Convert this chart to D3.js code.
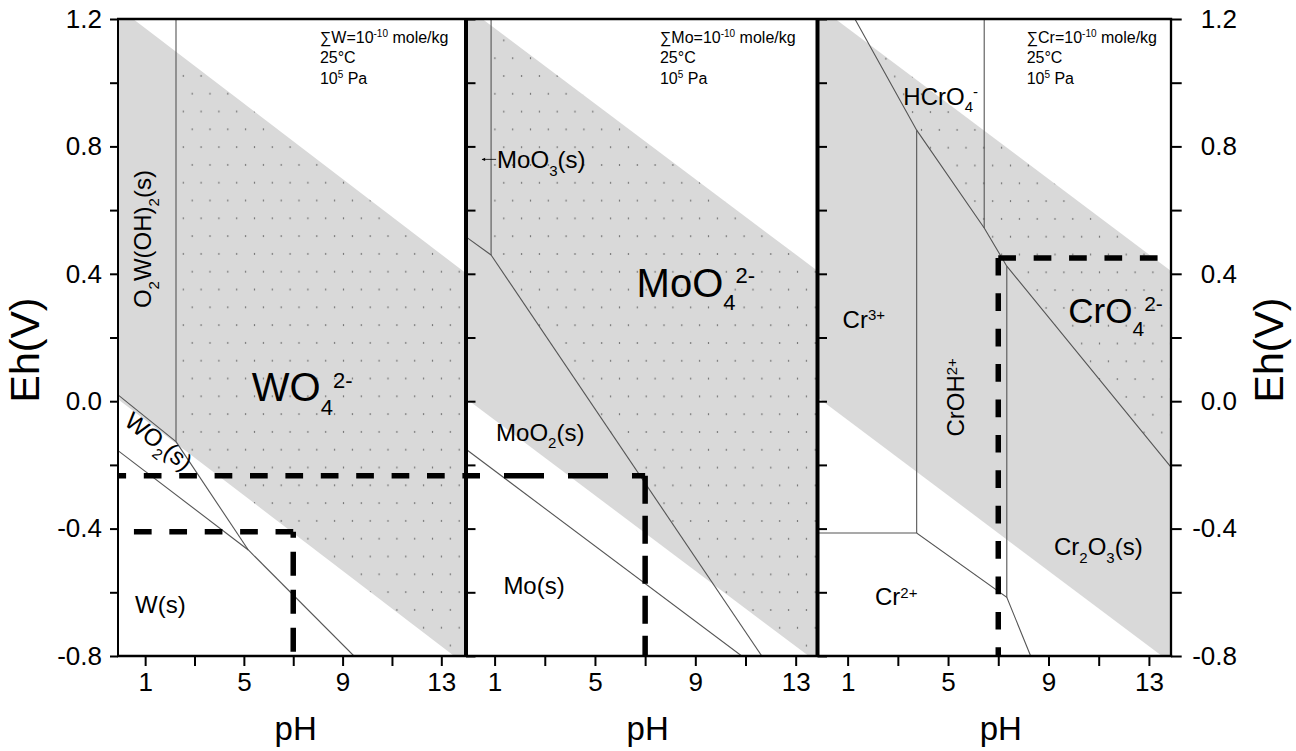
<!DOCTYPE html>
<html>
<head>
<meta charset="utf-8">
<script src="https://cdn.jsdelivr.net/npm/d3@7"></script>
<style>
  html, body { margin: 0; padding: 0; background: #fff; }
  svg { display: block; font-family: "Liberation Sans", Arial, sans-serif; }
</style>
</head>
<body>
<svg id="chart" width="1296" height="751"></svg>
<script>
// ---------- axis values ----------
const ehDomain = [-0.8, 1.2];
const ehTicks = [-0.8, -0.6, -0.4, -0.2, 0, 0.2, 0.4, 0.6, 0.8, 1.0, 1.2];
const ehLabels = [-0.8, -0.4, 0, 0.4, 0.8, 1.2];
const phTicks = [1, 3, 5, 7, 9, 11, 13];
const phLabels = [1, 5, 9, 13];

// ---------- water stability limits (pH, Eh) ----------
const waterUpper = [[-0.5, 1.26], [14.5, 0.372]];
const waterLower = [[-0.5, 0.03], [14.5, -0.858]];

// ---------- tungsten ----------
const wDomain = [-0.1, 14.0];
const wLines = [
  [[2.25, 1.2], [2.25, -0.127]],
  [[-0.1, 0.02], [2.25, -0.127]],
  [[2.25, -0.127], [5.18, -0.467]],
  [[-0.1, -0.155], [5.18, -0.467]],
  [[5.18, -0.467], [9.46, -0.8]]
];
const wAqueous = [[2.25, 1.3], [14.2, 1.3], [14.2, -0.9], [9.46, -0.8], [5.18, -0.467], [2.25, -0.127]];
const wGuides = [
  [[-0.1, -0.234], [14.0, -0.234]],
  [[7, -0.41], [-0.1, -0.41]],
  [[7, -0.41], [7, -0.8]]
];
const wLabels = [
  { text: "O_{2}W(OH)_{2}(s)", ph: 1.24, eh: 0.509, kind: "phase", orient: "up" },
  { text: "WO_{4}^{2-}", ph: 5.32, eh: 0.0, kind: "ion" },
  { text: "WO_{2}(s)", ph: 0.10, eh: -0.072, kind: "phase", orient: "slope" },
  { text: "W(s)", ph: 0.59, eh: -0.665, kind: "phase" }
];
const wNote = { lines: ["∑W=10^{-10} mole/kg", "25°C", "10^{5} Pa"], ph: 8.08, eh: 1.125 };

// ---------- molybdenum ----------
const moDomain = [-0.14, 13.87];
const moLines = [
  [[0.86, 1.2], [0.86, 0.459]],
  [[-0.14, 0.516], [0.86, 0.459]],
  [[0.86, 0.459], [11.65, -0.8]],
  [[-0.14, -0.151], [10.85, -0.8]]
];
const moAqueous = [[0.86, 1.3], [14.2, 1.3], [14.2, -0.9], [11.65, -0.8], [0.86, 0.459]];
const moGuides = [
  [[-0.14, -0.234], [7, -0.234]],
  [[7, -0.234], [7, -0.8]]
];
const moLabels = [
  { text: "MoO_{3}(s)", ph: 1.10, eh: 0.731, kind: "phase", pointer: true },
  { text: "MoO_{4}^{2-}", ph: 6.66, eh: 0.328, kind: "ion" },
  { text: "MoO_{2}(s)", ph: 1.06, eh: -0.124, kind: "phase" },
  { text: "Mo(s)", ph: 1.35, eh: -0.605, kind: "phase" }
];
const moNote = { lines: ["∑Mo=10^{-10} mole/kg", "25°C", "10^{5} Pa"], ph: 7.59, eh: 1.125 };

// ---------- chromium ----------
const crDomain = [-0.2, 13.88];
const crLines = [
  [[1.29, 1.2], [3.75, 0.851], [6.44, 0.544], [7.34, 0.424], [13.88, -0.207]],
  [[6.44, 1.2], [6.44, 0.544]],
  [[3.75, 0.851], [3.75, -0.414]],
  [[-0.2, -0.414], [3.75, -0.414], [7.34, -0.616], [8.29, -0.8]],
  [[7.34, 0.424], [7.34, -0.616]]
];
const crAqueous = [[1.29, 1.2], [1.2, 1.3], [14.2, 1.3], [14.2, -0.207], [13.88, -0.207], [7.34, 0.424], [6.44, 0.544], [3.75, 0.851]];
const crGuides = [
  [[7, 0.45], [7, -0.8]],
  [[7, 0.45], [13.88, 0.45]]
];
const crLabels = [
  { text: "HCrO_{4}^{-}", ph: 3.22, eh: 0.930, kind: "phase" },
  { text: "Cr^{3+}", ph: 0.80, eh: 0.230, kind: "phase" },
  { text: "CrOH^{2+}", ph: 5.64, eh: -0.111, kind: "phase", orient: "upStart" },
  { text: "Cr^{2+}", ph: 2.09, eh: -0.640, kind: "phase" },
  { text: "Cr_{2}O_{3}(s)", ph: 9.22, eh: -0.483, kind: "phase" },
  { text: "CrO_{4}^{2-}", ph: 9.79, eh: 0.245, kind: "ionSmall" }
];
const crNote = { lines: ["∑Cr=10^{-10} mole/kg", "25°C", "10^{5} Pa"], ph: 8.13, eh: 1.125 };

// ---------- layout ----------
const svg = d3.select("#chart");
const defs = svg.append("defs");
const plotTop = 19, plotBottom = 656;
const panelEdges = [118, 466, 817.5, 1171];
const y = d3.scaleLinear().domain(ehDomain).range([plotBottom, plotTop]);

const panels = [
  { domain: wDomain, lines: wLines, aqueous: wAqueous, guides: wGuides, labels: wLabels, note: wNote },
  { domain: moDomain, lines: moLines, aqueous: moAqueous, guides: moGuides, labels: moLabels, note: moNote },
  { domain: crDomain, lines: crLines, aqueous: crAqueous, guides: crGuides, labels: crLabels, note: crNote }
];
// stipple grid anchors, one per panel
const dotAnchors = [[210, 271.7], [575, 254], [966, 183.3]];
const dotPitch = 17.8;
// dash pattern and phase for each guide, per panel
const guideDash = [
  [["17.7,17.7", 9.6], ["17.7,17.7", 0], ["24,14", 18]],
  [["40,24", 26], ["28,12", 0]],
  [["17.7,17.7", 0], ["17.7,17.7", 0]]
];

const labelStyle = {
  ion:      { size: 40, script: 22, shift: 13.4 },
  ionSmall: { size: 35, script: 21, shift: 12.5 },
  phase:    { size: 24, script: 15, shift: 7.5 },
  note:     { size: 16, script: 10, shift: 6 }
};
const orientAngle = { up: -90, upStart: -90, slope: 38 };

// rich text: "_{..}" subscript, "^{..}" superscript
function rich(textSel, str, st) {
  const re = /([_^])\{([^}]*)\}|([^_^]+)/g;
  let m, cur = 0;
  while ((m = re.exec(str)) !== null) {
    let target = 0, content = m[3], fs = st.size;
    if (m[1]) {
      content = m[2];
      fs = st.script;
      target = m[1] === "_" ? st.shift : -st.shift;
    }
    textSel.append("tspan")
      .attr("font-size", fs)
      .attr("dy", target - cur)
      .text(content);
    cur = target;
  }
}

const fmtEh = d => d.toFixed(1);

panels.forEach((p, i) => {
  const x0 = panelEdges[i], x1 = panelEdges[i + 1];
  const x = d3.scaleLinear().domain(p.domain).range([x0, x1]);
  const line = d3.line().x(d => x(d[0])).y(d => y(d[1]));

  defs.append("clipPath").attr("id", "panel" + i)
    .append("rect")
    .attr("x", x0).attr("y", plotTop)
    .attr("width", x1 - x0).attr("height", plotBottom - plotTop);

  const band = waterUpper.concat(waterLower.slice().reverse());
  defs.append("clipPath").attr("id", "band" + i)
    .append("path").attr("d", line(band) + "Z");

  const a = dotAnchors[i];
  const pat = defs.append("pattern").attr("id", "dots" + i)
    .attr("patternUnits", "userSpaceOnUse")
    .attr("x", a[0] - dotPitch / 4).attr("y", a[1] - dotPitch / 2)
    .attr("width", dotPitch).attr("height", dotPitch * 2);
  [[dotPitch / 4, dotPitch / 2], [dotPitch * 3 / 4, dotPitch * 1.5]].forEach(c => {
    pat.append("rect")
      .attr("x", c[0] - 0.6).attr("y", c[1] - 0.6)
      .attr("width", 1.2).attr("height", 1.2)
      .attr("fill", "#3a3a3a");
  });

  const g = svg.append("g").attr("clip-path", `url(#panel${i})`);

  // water stability band
  g.append("path").attr("d", line(band) + "Z").attr("fill", "#d9d9d9");

  // stippled dissolved-species field inside the band
  g.append("g").attr("clip-path", `url(#band${i})`)
    .append("path").attr("d", line(p.aqueous) + "Z")
    .attr("fill", `url(#dots${i})`);

  // predominance boundaries
  g.selectAll("path.boundary").data(p.lines).join("path")
    .attr("class", "boundary")
    .attr("d", line)
    .attr("fill", "none")
    .attr("stroke", "#555")
    .attr("stroke-width", 1.1);

  // labels
  p.labels.forEach(l => {
    const st = labelStyle[l.kind];
    const px = x(l.ph), py = y(l.eh);
    const t = g.append("text")
      .attr("x", px).attr("y", py)
      .attr("fill", "#000")
      .attr("font-size", st.size);
    if (l.orient) {
      t.attr("transform", `rotate(${orientAngle[l.orient]},${px},${py})`)
        .attr("text-anchor", l.orient === "up" ? "middle" : "start");
    }
    rich(t, l.text, st);
    if (l.pointer) {
      const ay = py - 9;
      g.append("path")
        .attr("d", `M${px - 1},${ay}H${px - 15}`)
        .attr("stroke", "#000").attr("stroke-width", 0.8).attr("fill", "none");
      g.append("path")
        .attr("d", `M${px - 15.5},${ay}l3.5,-1.6v3.2z`)
        .attr("fill", "#000");
    }
  });

  // note block
  const ns = labelStyle.note;
  p.note.lines.forEach((s, k) => {
    const t = g.append("text")
      .attr("x", x(p.note.ph)).attr("y", y(p.note.eh) + k * 20.5)
      .attr("font-size", ns.size).attr("fill", "#000");
    rich(t, s, ns);
  });

  // dashed reference guides
  g.selectAll("path.guide").data(p.guides).join("path")
    .attr("class", "guide")
    .attr("d", line)
    .attr("fill", "none")
    .attr("stroke", "#000")
    .attr("stroke-width", 5.5)
    .attr("stroke-dasharray", (d, k) => guideDash[i][k][0])
    .attr("stroke-dashoffset", (d, k) => guideDash[i][k][1]);

  // bottom axis
  const ax = svg.append("g")
    .attr("transform", `translate(0,${plotBottom})`)
    .call(d3.axisBottom(x).tickValues(phTicks).tickSize(10).tickPadding(7)
      .tickFormat(d => phLabels.includes(d) ? d : ""));
  ax.select(".domain").remove();
  ax.selectAll(".tick line").attr("stroke", "#000").attr("stroke-width", 2);
  ax.selectAll(".tick text").attr("font-size", 26).attr("font-family", "Liberation Sans, Arial, sans-serif").attr("fill", "#000");

  svg.append("text")
    .attr("x", x(7.1)).attr("y", 740)
    .attr("text-anchor", "middle")
    .attr("font-size", 33).attr("fill", "#000")
    .text("pH");
});

// left Eh axis
const axL = svg.append("g").attr("transform", `translate(${panelEdges[0]},0)`)
  .call(d3.axisLeft(y).tickValues(ehTicks).tickSize(8).tickPadding(8)
    .tickFormat(d => ehLabels.includes(d) ? fmtEh(d) : ""));
// right Eh axis
const axR = svg.append("g").attr("transform", `translate(${panelEdges[3]},0)`)
  .call(d3.axisRight(y).tickValues(ehTicks).tickSize(10.7).tickPadding(8)
    .tickFormat(d => ehLabels.includes(d) ? fmtEh(d) : ""));
axR.selectAll(".tick text").attr("text-anchor", "end").attr("x", 66);
[axL, axR].forEach(a => {
  a.select(".domain").remove();
  a.selectAll(".tick line").attr("stroke", "#000").attr("stroke-width", 2);
  a.selectAll(".tick text").attr("font-size", 26).attr("font-family", "Liberation Sans, Arial, sans-serif").attr("fill", "#000");
});
// ticks on the panel dividers
[panelEdges[1], panelEdges[2]].forEach(px => {
  const a = svg.append("g").attr("transform", `translate(${px},0)`)
    .call(d3.axisRight(y).tickValues(ehTicks).tickSize(9.5).tickFormat(""));
  a.select(".domain").remove();
  a.selectAll(".tick line").attr("stroke", "#000").attr("stroke-width", 2);
});

// frame
const frame = svg.append("g").attr("stroke", "#000").attr("fill", "none");
frame.append("line").attr("x1", panelEdges[0] - 1).attr("x2", panelEdges[3] + 1.2)
  .attr("y1", plotTop).attr("y2", plotTop).attr("stroke-width", 2.3);
frame.append("line").attr("x1", panelEdges[0] - 1).attr("x2", panelEdges[3] + 1.2)
  .attr("y1", plotBottom).attr("y2", plotBottom).attr("stroke-width", 2.3);
frame.append("line").attr("x1", panelEdges[0]).attr("x2", panelEdges[0])
  .attr("y1", plotTop).attr("y2", plotBottom).attr("stroke-width", 2);
frame.append("line").attr("x1", panelEdges[3]).attr("x2", panelEdges[3])
  .attr("y1", plotTop).attr("y2", plotBottom).attr("stroke-width", 2.3);
[panelEdges[1], panelEdges[2]].forEach(px => {
  frame.append("line").attr("x1", px).attr("x2", px)
    .attr("y1", plotTop).attr("y2", plotBottom).attr("stroke-width", 4);
});

// Eh titles
[[39, 350], [1283, 350]].forEach(c => {
  svg.append("text")
    .attr("transform", `translate(${c[0]},${c[1]}) rotate(-90)`)
    .attr("text-anchor", "middle")
    .attr("font-size", 41).attr("fill", "#000")
    .text("Eh(V)");
});
</script>
</body>
</html>
